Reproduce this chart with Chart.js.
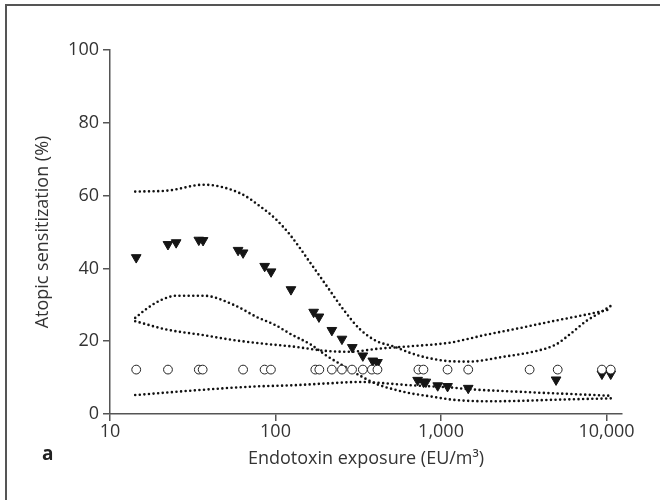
<!DOCTYPE html>
<html>
<head>
<meta charset="utf-8">
<script src="https://cdn.jsdelivr.net/npm/chart.js@4.4.0/dist/chart.umd.min.js"></script>
<style>
  body { margin: 0; background: #fff; }
  canvas { display: block; }
</style>
</head>
<body>
<canvas id="grafico" width="660" height="500"></canvas>
<script>
// Eixos
const xTickValues = [10, 100, 1000, 10000];
const xTickLabels = ['10', '100', '1,000', '10,000'];
const yTickValues = [0, 20, 40, 60, 80, 100];

// Triângulos (valores preenchidos)
const triX = [14.4, 22.4, 25.1, 34.4, 36.5, 59.4, 63.7, 86, 94, 124, 170, 183, 219, 252, 291, 337, 387, 413, 722, 783, 810, 955, 1095, 1460, 4955, 9380, 10600];
const triY = [43.0, 46.6, 47.1, 47.8, 47.7, 45.0, 44.3, 40.6, 39.1, 34.2, 28.0, 26.7, 23.0, 20.6, 18.3, 16.0, 14.6, 14.2, 9.3, 8.8, 8.8, 7.8, 7.6, 7.1, 9.4, 11.0, 11.0];

// Círculos (abertos)
const circX = [14.4, 22.4, 34.4, 36.3, 63.7, 85.9, 93.8, 174, 184, 219, 252, 290, 337, 382, 413, 730, 783, 1095, 1460, 3430, 5070, 9380, 10600];
const circY = [12.2, 12.2, 12.2, 12.2, 12.2, 12.2, 12.2, 12.2, 12.2, 12.2, 12.2, 12.2, 12.2, 12.2, 12.2, 12.2, 12.2, 12.2, 12.2, 12.2, 12.2, 12.2, 12.2];

// Curvas pontilhadas - intervalo dos triângulos
const triUpperX = [14.2, 22.6, 36.8, 61.4, 81, 100, 123, 163, 205, 258, 325, 409, 515, 650, 818, 1130, 1480, 2370, 3760, 4950, 5970, 7520, 9040, 10700];
const triUpperY = [61.1, 61.4, 63.0, 60.6, 57.0, 53.6, 49.1, 41.4, 35.0, 28.6, 23.2, 20.0, 18.6, 16.8, 15.5, 14.5, 14.4, 15.7, 17.3, 19.1, 21.8, 25.5, 27.7, 29.8];
const triLowerX = [14.2, 16.3, 20.1, 25.4, 36.8, 55.8, 77.4, 100, 123, 163, 205, 258, 325, 409, 515, 650, 818, 1190, 1880, 2980, 4730, 10700];
const triLowerY = [26.4, 28.6, 31.2, 32.5, 32.5, 30.0, 26.6, 24.4, 22.0, 19.1, 15.9, 13.2, 10.5, 8.2, 6.8, 5.7, 5.0, 3.9, 3.5, 3.6, 3.9, 4.3];

// Curvas pontilhadas - intervalo dos círculos
const circUpperX = [14.2, 22, 35, 56, 81, 129, 205, 283, 409, 650, 1130, 1884, 2985, 4730, 7520, 10700];
const circUpperY = [25.5, 23.2, 21.8, 20.3, 19.4, 18.5, 17.3, 17.1, 17.9, 18.6, 19.6, 21.8, 23.6, 25.5, 27.3, 28.8];
const circLowerX = [14.2, 35, 70, 129, 205, 325, 409, 650, 1130, 1490, 2985, 5960, 10700];
const circLowerY = [5.2, 6.6, 7.5, 7.9, 8.4, 8.8, 8.6, 7.9, 7.3, 6.8, 6.1, 5.5, 5.0];

function pontos(xs, ys) {
  return xs.map((x, i) => ({ x: x, y: ys[i] }));
}

function curva(xs, ys) {
  return {
    data: pontos(xs, ys),
    showLine: true,
    borderColor: '#111',
    borderWidth: 2.6,
    borderDash: [0, 4.6],
    borderCapStyle: 'round',
    cubicInterpolationMode: 'monotone',
    pointRadius: 0,
    fill: false,
    order: 3
  };
}

const fonte = { family: 'Open Sans', size: 18 };

// Moldura e letra do painel
const molduraPlugin = {
  id: 'moldura',
  afterDraw(chart) {
    const ctx = chart.ctx;
    ctx.save();
    ctx.strokeStyle = '#555';
    ctx.lineWidth = 2;
    ctx.beginPath();
    ctx.moveTo(6, 500);
    ctx.lineTo(6, 5);
    ctx.lineTo(660, 5);
    ctx.stroke();
    ctx.fillStyle = '#222';
    ctx.font = 'bold 19px "Open Sans"';
    ctx.textBaseline = 'middle';
    ctx.fillText('a', 42, 455);
    ctx.restore();
  }
};

const config = {
  type: 'scatter',
  data: {
    datasets: [
      {
        data: pontos(circX, circY),
        pointStyle: 'circle',
        pointRadius: 4.4,
        backgroundColor: '#fff',
        borderColor: '#222',
        borderWidth: 1,
        order: 1
      },
      {
        data: pontos(triX, triY),
        pointStyle: 'triangle',
        rotation: 180,
        pointRadius: 5.6,
        backgroundColor: '#151515',
        borderColor: '#151515',
        borderWidth: 1,
        order: 2
      },
      curva(triUpperX, triUpperY),
      curva(triLowerX, triLowerY),
      curva(circUpperX, circUpperY),
      curva(circLowerX, circLowerY)
    ]
  },
  options: {
    responsive: false,
    animation: false,
    layout: { padding: { left: 0, right: 38, top: 50, bottom: 0 } },
    plugins: { legend: { display: false }, tooltip: { enabled: false } },
    scales: {
      x: {
        type: 'logarithmic',
        min: 10,
        max: 12400,
        afterBuildTicks: (s) => { s.ticks = xTickValues.map(v => ({ value: v })); },
        afterFit: (s) => { s.height = 86; },
        ticks: {
          callback: (v) => xTickLabels[xTickValues.indexOf(v)],
          color: '#333',
          font: fonte,
          padding: 0,
          maxRotation: 0,
          autoSkip: false
        },
        grid: { drawOnChartArea: false, drawTicks: true, tickLength: 7, color: '#555', lineWidth: 1.5 },
        border: { display: true, color: '#555', width: 1.5 },
        title: {
          display: true,
          text: 'Endotoxin exposure (EU/m³)',
          color: '#333',
          font: fonte,
          padding: { top: 0, bottom: 30 }
        }
      },
      y: {
        min: 0,
        max: 100,
        afterBuildTicks: (s) => { s.ticks = yTickValues.map(v => ({ value: v })); },
        afterFit: (s) => { s.width = 110; },
        ticks: {
          color: '#333',
          font: fonte,
          padding: 4
        },
        grid: { drawOnChartArea: false, drawTicks: true, tickLength: 7, color: '#555', lineWidth: 1.5 },
        border: { display: true, color: '#555', width: 1.5 },
        title: {
          display: true,
          text: 'Atopic sensitization (%)',
          color: '#333',
          font: fonte,
          padding: { top: 32, bottom: 0 }
        }
      }
    }
  },
  plugins: [molduraPlugin]
};

new Chart(document.getElementById('grafico'), config);
</script>
</body>
</html>
